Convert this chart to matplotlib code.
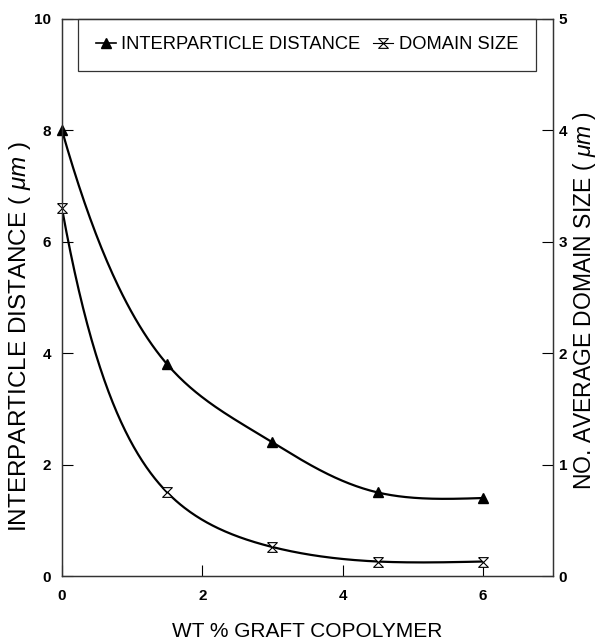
import matplotlib
matplotlib.use("Agg")
import matplotlib.pyplot as plt
import numpy as np
from matplotlib.lines import Line2D

plt.rcParams["font.family"] = ["Liberation Sans", "DejaVu Sans"]
plt.rcParams["mathtext.fontset"] = "custom"
plt.rcParams["mathtext.it"] = "Liberation Sans:italic"
plt.rcParams["mathtext.rm"] = "Liberation Sans"

# data
wt_pct = [0.0, 1.5, 3.0, 4.5, 6.0]
interparticle = [8.0, 3.8, 2.4, 1.5, 1.4]      # left axis, um
domain_size = [3.3, 0.75, 0.26, 0.13, 0.13]    # right axis, um

x_ticks = [0, 2, 4, 6]
left_ticks = [0, 2, 4, 6, 8, 10]
right_ticks = [0, 1, 2, 3, 4, 5]


def natural_spline(x, y, xs):
    x = np.asarray(x, float)
    y = np.asarray(y, float)
    n = len(x)
    h = np.diff(x)
    A = np.zeros((n, n))
    r = np.zeros(n)
    A[0, 0] = A[-1, -1] = 1.0
    for i in range(1, n - 1):
        A[i, i - 1] = h[i - 1]
        A[i, i] = 2 * (h[i - 1] + h[i])
        A[i, i + 1] = h[i]
        r[i] = 6 * ((y[i + 1] - y[i]) / h[i] - (y[i] - y[i - 1]) / h[i - 1])
    M = np.linalg.solve(A, r)
    idx = np.clip(np.searchsorted(x, xs) - 1, 0, n - 2)
    x0, x1 = x[idx], x[idx + 1]
    hh = x1 - x0
    a = (x1 - xs) / hh
    b = (xs - x0) / hh
    return (a * y[idx] + b * y[idx + 1]
            + ((a**3 - a) * M[idx] + (b**3 - b) * M[idx + 1]) * hh**2 / 6)


# smooth curves drawn in log space, like the original spline fit
xs = np.linspace(wt_pct[0], wt_pct[-1], 300)
ip_curve = np.exp(natural_spline(wt_pct, np.log(interparticle), xs))
ds_curve = np.exp(natural_spline(wt_pct, np.log(domain_size), xs))

hourglass = [(-1, 1), (1, 1), (-1, -1), (1, -1), (-1, 1)]

W, H = 598, 643
fig = plt.figure(figsize=(W / 100, H / 100), dpi=100)
ax = fig.add_axes([62 / W, 1 - 576 / H, 491 / W, 557 / H])
ax2 = ax.twinx()

ax.plot(xs, ip_curve, color="black", lw=1.6)
ax.plot(wt_pct, interparticle, "^", color="black", ms=7, clip_on=False)
ax2.plot(xs, ds_curve, color="black", lw=1.6)
ax2.plot(wt_pct, domain_size, ls="none", marker=hourglass, ms=7,
         mfc="white", mec="black", mew=0.8, clip_on=False)

ax.set_xlim(0, 7)
ax.set_ylim(0, 10)
ax2.set_ylim(0, 5)
ax.set_xticks(x_ticks)
ax.set_yticks(left_ticks)
ax2.set_yticks(right_ticks)

for a in (ax, ax2):
    a.tick_params(direction="in", length=8, width=0.8, labelsize=11)
    for s in a.spines.values():
        s.set_linewidth(0.9)
        s.set_color("#333333")
    for lab in a.get_xticklabels() + a.get_yticklabels():
        lab.set_fontweight("bold")
ax.tick_params(axis="x", pad=9)
ax.tick_params(axis="y", pad=8)
ax2.tick_params(axis="y", pad=4)

ax.set_xlabel("WT % GRAFT COPOLYMER", fontsize=15, labelpad=14)
fig.text(20 / W, 1 - 337 / H, r"INTERPARTICLE DISTANCE ( $\mathit{\mu m}$ )",
         fontsize=17.5, rotation=90, ha="center", va="center")
fig.text(585 / W, 1 - 300 / H, r"NO. AVERAGE DOMAIN SIZE ( $\mathit{\mu m}$ )",
         fontsize=16.5, rotation=90, ha="center", va="center")

handles = [
    Line2D([], [], color="black", lw=1.2, marker="^", ms=7),
    Line2D([], [], color="black", lw=0.8, marker=hourglass, ms=7, mfc="white", mew=0.8),
]
leg = ax.legend(handles, ["INTERPARTICLE DISTANCE", "DOMAIN SIZE"], ncol=2,
                loc="upper center", bbox_to_anchor=(0.499, 1.0), fontsize=13.2,
                handlelength=1.1, handletextpad=0.3, columnspacing=0.7,
                fancybox=False, borderpad=0.95, borderaxespad=0.0)
leg.get_frame().set_edgecolor("black")
leg.get_frame().set_linewidth(0.9)

fig.savefig("out.png", dpi=100)
